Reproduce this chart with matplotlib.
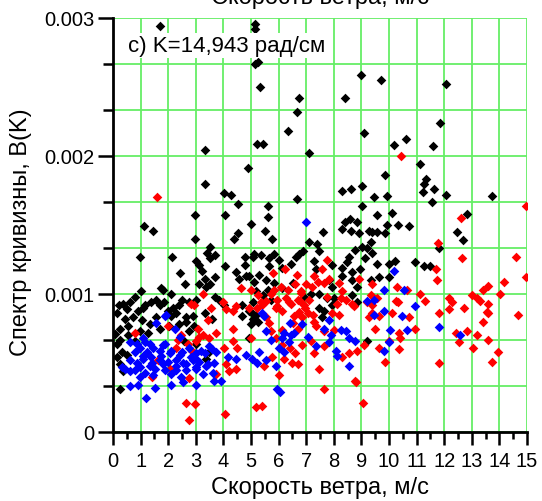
import numpy as np
import matplotlib
matplotlib.use("Agg")
import matplotlib.pyplot as plt
from matplotlib.ticker import FixedLocator

plt.rcParams['font.family'] = ['Liberation Sans', 'DejaVu Sans']

# значения B(K) в единицах 1e-3
SCALE = 1e-3

black_pts = [
    (1.69, 2.94), (5.13, 2.96), (5.13, 2.92), (5.13, 2.67), (5.25, 2.68), (5.31, 2.50), (6.75, 2.42), (6.65, 2.32),
    (8.99, 2.59), (9.70, 2.55), (12.07, 2.52), (8.40, 2.42), (9.11, 2.17), (11.84, 2.24), (10.17, 2.08), (10.61, 2.12),
    (11.61, 2.07), (7.10, 2.02), (11.11, 1.94), (9.87, 1.86), (11.34, 1.83), (11.25, 1.80), (11.23, 1.74), (8.28, 1.75),
    (8.64, 1.76), (9.02, 1.78), (9.47, 1.70), (9.93, 1.71), (12.07, 1.72), (13.75, 1.71), (11.55, 1.67), (11.64, 1.76),
    (9.02, 1.64), (12.84, 1.58), (12.45, 1.45), (12.67, 1.39), (11.80, 1.33), (11.49, 1.20),
    (3.32, 2.04), (6.35, 2.18), (5.20, 2.09), (5.42, 2.09), (4.90, 1.91), (3.34, 1.80), (4.01, 1.73), (4.29, 1.72),
    (4.53, 1.65), (5.61, 1.64), (6.68, 1.69), (2.98, 1.57), (4.06, 1.57), (1.12, 1.49), (1.46, 1.46), (5.00, 1.51),
    (5.61, 1.56), (5.51, 1.46), (5.75, 1.40), (4.53, 1.44), (4.40, 1.40), (2.98, 1.40), (0.98, 1.27), (2.12, 1.27),
    (3.53, 1.34), (3.02, 1.24), (3.10, 1.21), (3.40, 1.30), (3.50, 1.26), (3.68, 1.28), (4.04, 1.20), (4.77, 1.27),
    (4.77, 1.21), (2.44, 1.15), (4.46, 1.16),
    (9.57, 1.57), (10.11, 1.59), (8.60, 1.54), (8.42, 1.52), (8.30, 1.47), (8.64, 1.46), (8.84, 1.52), (8.90, 1.44),
    (9.27, 1.46), (9.39, 1.45), (9.57, 1.45), (9.87, 1.44), (9.93, 1.50), (10.33, 1.50), (10.71, 1.49), (7.60, 1.45),
    (7.10, 1.38), (7.40, 1.36), (7.46, 1.31), (8.78, 1.32), (9.02, 1.34), (9.20, 1.33), (9.33, 1.38), (9.39, 1.30),
    (9.14, 1.26), (8.54, 1.27), (8.48, 1.23), (8.30, 1.19), (8.66, 1.16), (7.94, 1.21), (8.30, 1.13), (8.66, 1.10),
    (8.84, 1.05), (8.96, 1.18), (9.57, 1.22), (9.99, 1.22), (10.20, 1.24), (9.99, 1.12), (9.63, 1.12), (9.33, 1.10),
    (10.93, 1.23), (11.25, 1.20), (7.28, 1.24), (7.34, 1.18), (7.82, 1.10), (7.94, 1.05), (7.46, 1.00), (7.76, 0.97),
    (8.00, 0.97), (7.94, 0.92), (7.64, 0.88), (8.66, 0.99), (8.84, 0.94), (7.46, 0.90), (7.58, 0.83), (9.20, 0.66),
    (5.06, 1.27), (5.12, 1.29), (5.36, 1.28), (5.66, 1.26), (5.84, 1.29), (6.02, 1.25), (5.66, 1.20), (6.14, 1.19),
    (6.45, 1.22), (6.63, 1.27), (6.75, 1.29), (6.87, 1.31), (5.30, 1.14), (5.12, 1.09), (5.54, 1.10), (5.84, 1.08),
    (6.14, 1.04), (6.51, 1.08), (5.60, 1.03), (5.18, 1.02), (5.42, 0.99), (5.06, 0.94), (5.72, 0.96), (6.93, 0.98),
    (7.17, 1.00), (5.00, 0.87), (5.06, 0.82), (5.24, 0.80), (5.00, 0.78), (4.94, 0.68),
    (3.22, 1.17), (3.34, 1.11), (3.52, 1.07), (3.70, 1.12), (3.10, 1.07), (2.62, 1.07), (1.01, 1.02), (1.75, 1.04),
    (0.80, 0.98), (0.38, 0.93), (0.20, 0.92), (0.50, 0.89), (0.62, 0.94), (1.09, 0.90), (1.39, 0.94), (1.57, 0.96),
    (1.69, 0.92), (1.86, 0.94), (1.98, 0.88), (2.16, 0.90), (2.40, 0.92), (2.51, 0.96), (2.75, 0.94), (0.15, 0.86),
    (0.44, 0.82), (0.74, 0.83), (1.04, 0.81), (1.33, 0.78), (1.57, 0.83), (0.26, 0.75), (0.56, 0.77), (0.98, 0.73),
    (1.27, 0.72), (1.69, 0.75), (2.04, 0.77), (0.09, 0.71), (0.27, 0.67), (0.56, 0.70), (2.40, 0.78), (2.63, 0.83),
    (2.75, 0.73), (2.93, 0.77), (2.57, 0.66), (2.99, 0.64), (0.15, 0.64), (0.33, 0.58), (0.15, 0.54), (0.27, 0.49),
    (0.38, 0.44), (3.34, 0.86), (3.58, 0.82), (2.99, 0.96), (3.70, 0.98), (3.85, 0.96), (4.03, 0.92), (4.69, 0.92),
    (4.58, 1.11), (4.82, 1.13), (4.94, 1.13), (3.38, 1.05), (1.82, 1.03), (2.11, 1.00), (4.69, 0.84), (4.93, 0.88),
    (5.17, 0.85), (3.37, 0.53), (3.49, 0.58), (0.25, 0.31), (0.50, 0.56), (0.80, 0.66), (2.65, 0.80), (2.89, 0.84),
    (2.29, 0.86), (2.11, 0.84), (1.16, 0.92), (0.92, 0.88),
]

red_pts = [
    (1.60, 1.70), (10.45, 2.00), (5.78, 1.15), (6.22, 1.18), (6.68, 1.14), (6.98, 1.07), (7.22, 1.05),
    (3.25, 1.00), (2.95, 0.92), (3.55, 0.90), (4.63, 1.04), (4.99, 1.03), (6.60, 1.07), (6.80, 1.01), (5.55, 0.95),
    (4.93, 0.90), (4.45, 0.91), (4.09, 0.89), (5.23, 0.90), (5.41, 0.92), (3.97, 0.94), (4.33, 0.88),
    (3.43, 0.81), (3.07, 0.75), (3.25, 0.70), (3.49, 0.68), (3.73, 0.72), (3.01, 0.66), (2.71, 0.64), (2.29, 0.61),
    (0.80, 0.72), (2.47, 0.70), (1.63, 0.52), (2.05, 0.46), (1.40, 0.40), (2.77, 0.39), (3.73, 0.42), (4.03, 0.61),
    (4.33, 0.75), (4.33, 0.66), (4.51, 0.61), (4.09, 0.49), (4.21, 0.44), (4.45, 0.46),
    (1.98, 0.77), (2.34, 0.67), (3.11, 0.69), (2.87, 0.59), (2.81, 0.93),
    (2.63, 0.21), (2.96, 0.20), (2.75, 0.09), (4.06, 0.13), (5.18, 0.18), (5.40, 0.19), (7.65, 0.31), (9.05, 0.21),
    (8.80, 0.36),
    (5.71, 0.73), (5.89, 0.68), (6.13, 0.63), (6.43, 0.61), (6.60, 0.57), (6.84, 0.63), (5.47, 0.48), (5.77, 0.54),
    (6.19, 0.53), (6.49, 0.50), (6.72, 0.49), (6.00, 0.41), (5.89, 0.90), (6.37, 0.94), (6.78, 0.95), (6.54, 0.84),
    (6.96, 0.90), (6.13, 0.88), (6.84, 0.83), (5.53, 0.83),
    (5.24, 0.99), (5.36, 0.94), (5.72, 1.00), (5.84, 1.03), (6.08, 1.05), (6.33, 1.03), (5.96, 0.96), (6.27, 0.97),
    (6.45, 0.93), (6.69, 0.96), (6.93, 0.92), (7.11, 0.96), (6.75, 0.87), (7.05, 0.86), (7.23, 0.85), (7.29, 0.80),
    (6.81, 1.02), (7.41, 1.09), (7.65, 1.08), (7.83, 1.11), (8.19, 1.08), (8.31, 1.02), (8.25, 0.97), (8.43, 0.96),
    (7.77, 0.98), (8.13, 0.93), (7.95, 0.86), (8.19, 0.85), (5.00, 0.68), (5.66, 0.79), (5.96, 0.91), (6.51, 0.79),
    (6.14, 0.74), (6.69, 0.75), (7.77, 1.25), (7.58, 1.18), (7.28, 1.13),
    (10.29, 1.05), (10.65, 1.03), (11.13, 1.00), (11.31, 0.95), (10.33, 0.94), (9.39, 1.07), (9.33, 0.99), (9.57, 0.97),
    (9.20, 0.94), (9.39, 0.92), (8.72, 0.91), (8.90, 1.11),
    (8.66, 0.93), (9.39, 0.86), (9.27, 0.83), (9.51, 0.75), (9.63, 0.84), (10.11, 0.86), (10.25, 0.95), (10.71, 0.83),
    (10.95, 0.75), (10.35, 0.72), (10.41, 0.68), (9.99, 0.66), (10.37, 0.60), (9.87, 0.51), (9.63, 0.61), (9.08, 0.63),
    (8.84, 0.59), (8.54, 0.57), (8.30, 0.54), (7.64, 0.62), (7.28, 0.57), (7.16, 0.66), (8.00, 0.74), (7.46, 0.46),
    (8.78, 0.37), (7.34, 0.77), (7.64, 0.73),
    (14.95, 1.64), (12.61, 1.55), (11.77, 1.37), (12.65, 1.26), (14.60, 1.27), (14.96, 1.12), (11.70, 1.18), (11.73, 1.10),
    (14.18, 1.09), (13.60, 1.06), (13.40, 1.03), (14.02, 1.00), (13.00, 0.99), (13.18, 0.97), (13.30, 0.95), (12.18, 0.97),
    (12.30, 0.94), (13.60, 0.93), (12.16, 0.89), (11.80, 0.86), (12.72, 0.90), (13.60, 0.86), (13.55, 0.87), (14.69, 0.85),
    (13.39, 0.80), (12.42, 0.72), (12.84, 0.73), (12.54, 0.65), (13.20, 0.70), (13.60, 0.67), (13.04, 0.61), (13.94, 0.58),
    (13.72, 0.51), (11.82, 0.50),
]

blue_pts = [
    (6.98, 1.52), (1.87, 0.84), (5.47, 0.84),
    (1.93, 0.85), (1.57, 0.79), (2.23, 0.75), (2.41, 0.69), (1.10, 0.68), (0.62, 0.65), (1.34, 0.64), (1.87, 0.64),
    (0.98, 0.61), (1.22, 0.58), (1.69, 0.59), (2.05, 0.57), (2.41, 0.56), (2.77, 0.61), (3.01, 0.57), (3.19, 0.59),
    (3.49, 0.62), (3.73, 0.58), (0.62, 0.52), (0.86, 0.50), (1.10, 0.53), (1.40, 0.50), (1.69, 0.52), (1.99, 0.51),
    (2.29, 0.48), (2.53, 0.50), (2.89, 0.52), (3.13, 0.51), (3.37, 0.48), (3.67, 0.50), (0.44, 0.46), (0.80, 0.45),
    (1.16, 0.43), (1.51, 0.46), (1.87, 0.45), (2.29, 0.45), (2.65, 0.45), (3.01, 0.46), (0.98, 0.40), (1.46, 0.41),
    (2.11, 0.42), (2.47, 0.40), (3.25, 0.42), (3.61, 0.43),
    (4.15, 0.54), (4.45, 0.53), (4.81, 0.56), (5.05, 0.53), (5.29, 0.58), (5.23, 0.50), (5.53, 0.52), (5.89, 0.48),
    (6.37, 0.65), (6.54, 0.72), (6.19, 0.72), (6.43, 0.79), (6.84, 0.78), (5.41, 0.86),
    (0.63, 0.33), (0.90, 0.34), (1.21, 0.25), (1.52, 0.32), (2.09, 0.34), (2.53, 0.36), (3.00, 0.34), (3.65, 0.37),
    (3.90, 0.37), (5.96, 0.31), (6.05, 0.29),
    (0.86, 0.64), (1.15, 0.65), (1.45, 0.61), (1.80, 0.63), (0.80, 0.58), (1.09, 0.55), (0.33, 0.47), (1.39, 0.54),
    (1.75, 0.55), (2.10, 0.59), (2.51, 0.58), (2.81, 0.54), (2.28, 0.52), (1.80, 0.49), (1.33, 0.48), (0.98, 0.47),
    (0.62, 0.44), (2.63, 0.49), (3.05, 0.52), (3.34, 0.57), (3.58, 0.60), (2.99, 0.47), (3.46, 0.49),
    (7.83, 0.81), (7.65, 0.75), (5.54, 0.73), (5.72, 0.67), (6.14, 0.68), (6.45, 0.70), (6.02, 0.61), (6.20, 0.58),
    (7.83, 0.65), (7.89, 0.70), (8.25, 0.74), (8.43, 0.73), (8.55, 0.68), (8.07, 0.59), (7.35, 0.62), (7.05, 0.69),
    (9.81, 0.88), (10.47, 0.84), (10.95, 0.91), (9.45, 0.85), (10.05, 0.74), (10.65, 0.74), (11.80, 0.76), (12.58, 0.70),
    (8.78, 0.66), (8.12, 0.55), (8.54, 0.48), (9.81, 0.59), (9.99, 0.65), (9.20, 0.95), (9.45, 0.96),
    (10.17, 1.17), (9.81, 1.03), (10.53, 1.03),
]

x_ticks = list(range(0, 16))
y_ticks = [0, 0.001, 0.002, 0.003]
y_tick_labels = ["0", "0.001", "0.002", "0.003"]

GRID = "#66ee66"


def to_xy(pts):
    arr = np.array(pts)
    return arr[:, 0], arr[:, 1] * SCALE


def main():
    fig = plt.figure(figsize=(5.42, 5.02), dpi=100)
    ax = fig.add_axes([113 / 542, 1 - 433 / 502, 414 / 542, 414 / 502])

    for pts, col in [(black_pts, "black"), (red_pts, "#ff0000"), (blue_pts, "#0000ff")]:
        x, y = to_xy(pts)
        ax.scatter(x, y, marker="D", s=24, color=col, linewidths=0, zorder=3)

    ax.set_xlim(0, 15)
    ax.set_ylim(0, 0.003)
    ax.set_xticks(x_ticks)
    ax.xaxis.set_minor_locator(FixedLocator([k + 0.5 for k in range(15)]))
    ax.set_yticks(y_ticks)
    ax.set_yticklabels(y_tick_labels)
    ax.yaxis.set_minor_locator(FixedLocator([k * 0.001 / 3 for k in range(10) if k % 3]))

    ax.xaxis.grid(True, which="major", color=GRID, lw=1.3)
    ax.yaxis.grid(True, which="both", color=GRID, lw=1.3)
    ax.set_axisbelow(True)

    for side in ["top", "right"]:
        ax.spines[side].set_visible(False)
    for side in ["left", "bottom"]:
        ax.spines[side].set_linewidth(2)

    ax.tick_params(axis="x", which="major", length=9, width=1.8, pad=5, labelsize=14.5)
    ax.tick_params(axis="x", which="minor", length=5, width=1.8)
    ax.tick_params(axis="y", which="major", length=10.5, width=1.8, pad=3, labelsize=14.5)
    ax.tick_params(axis="y", which="minor", length=7, width=1.8)

    ax.text(0.55, 0.0028, "c) K=14,943 рад/см", fontsize=16, va="center", ha="left",
            bbox=dict(facecolor="white", edgecolor="none", pad=1.5), zorder=4)

    fig.text(320 / 542, 1 - 494 / 502, "Скорость ветра, м/с", fontsize=17, ha="center", va="baseline")
    fig.text(21 / 542, 1 - 232 / 502, "Спектр кривизны, B(K)", fontsize=17, ha="center", va="center",
             rotation=90)
    # обрезанная подпись оси предыдущей панели
    fig.text(320 / 542, 1 - 4 / 502, "Скорость ветра, м/с", fontsize=17, ha="center", va="baseline")

    fig.savefig("out.png", dpi=100)
    plt.close(fig)


if __name__ == "__main__":
    main()
